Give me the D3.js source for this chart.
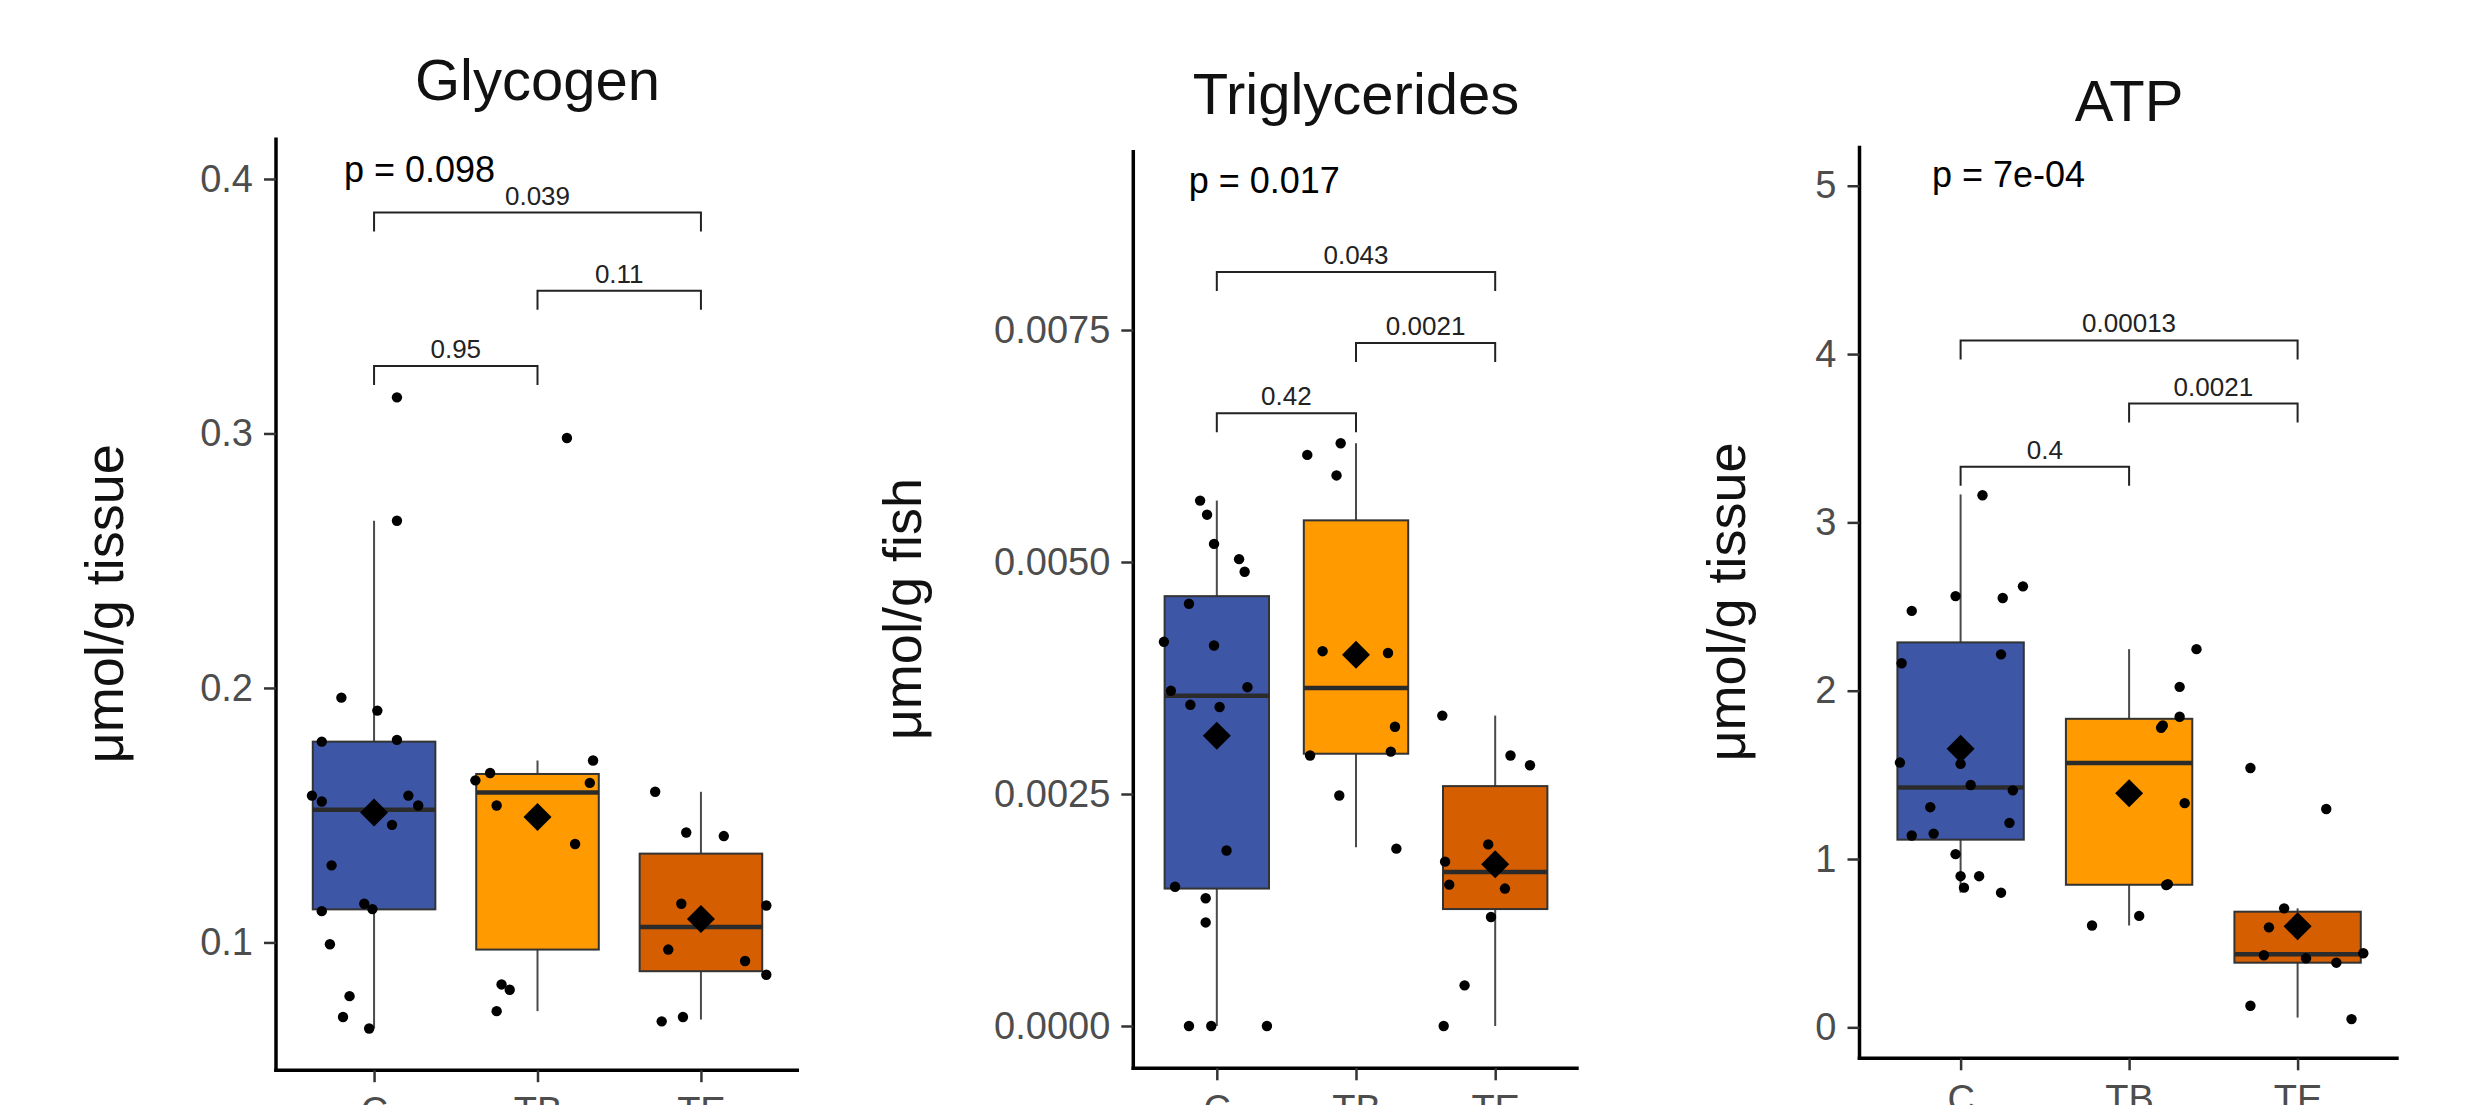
<!DOCTYPE html>
<html><head><meta charset="utf-8">
<script src="https://cdn.jsdelivr.net/npm/d3@7"></script>
<style>
body{margin:0;background:#fff;}
svg{display:block;}
text{font-family:"Liberation Sans",Arial,sans-serif;}
</style>
</head><body>
<svg id="chart" width="2478" height="1105"></svg>
<script>
// ---------------- DATA ----------------
const categories = ["C", "TB", "TE"];

// Glycogen (µmol/g tissue)
const glycogenC  = [0.3142,0.2657,0.1962,0.1911,0.1789,0.1796,0.1577,0.1554,0.1577,0.1538,0.1462,0.1303,0.1152,0.1131,0.1123,0.0993,0.0789,0.0707,0.0662];
const glycogenCJitter  = [0.14,0.14,-0.20,0.02,-0.32,0.14,-0.38,-0.32,0.21,0.27,0.11,-0.26,-0.06,-0.01,-0.32,-0.27,-0.15,-0.19,-0.03];
const glycogenTB = [0.2982,0.1715,0.1666,0.1637,0.1627,0.1538,0.1387,0.0835,0.0814,0.0730];
const glycogenTBJitter = [0.18,0.34,-0.29,-0.38,0.32,-0.25,0.23,-0.22,-0.17,-0.25];
const glycogenTE = [0.1592,0.1432,0.1418,0.1152,0.1145,0.0972,0.0927,0.0873,0.0707,0.0690];
const glycogenTEJitter = [-0.28,-0.09,0.14,-0.12,0.40,-0.20,0.27,0.40,-0.11,-0.24];
// box stats per group: [whiskerLow, q1, median, q3, whiskerHigh]
const glycogenBoxes = [[0.0662,0.1130,0.1521,0.1789,0.2657],[0.0730,0.0972,0.1589,0.1662,0.1715],[0.0697,0.0887,0.1061,0.1349,0.1592]];
const glycogenMeans = [0.1511,0.1493,0.1092];
const glycogenTicks = [0.1,0.2,0.3,0.4];
const glycogenTickLabels = ["0.1","0.2","0.3","0.4"];
const glycogenBrackets = [["C","TE"],["TB","TE"],["C","TB"]];
const glycogenBracketY = [0.3868,0.3561,0.3265];
const glycogenBracketLabels = ["0.039","0.11","0.95"];
const glycogenP = "p = 0.098";

// Triglycerides (µmol/g fish)
const trigC  = [0.005662,0.00551,0.005195,0.005031,0.004895,0.00455,0.00414,0.0041,0.003612,0.003651,0.003461,0.003438,0.001891,0.0015,0.001376,0.001116,0,0,0];
const trigCJitter  = [-0.12,-0.07,-0.02,0.16,0.20,-0.20,-0.38,-0.02,-0.33,0.22,-0.19,0.02,0.07,-0.30,-0.08,-0.08,-0.20,-0.04,0.36];
const trigTB = [0.00628,0.006154,0.005933,0.004039,0.004019,0.003225,0.002957,0.002915,0.002484,0.001911];
const trigTBJitter = [-0.11,-0.35,-0.14,-0.24,0.23,0.28,0.25,-0.33,-0.12,0.29];
const trigTE = [0.003345,0.002915,0.00281,0.001957,0.001771,0.001523,0.001481,0.001174,0.000438,0];
const trigTEJitter = [-0.38,0.11,0.25,-0.05,-0.36,-0.33,0.07,-0.03,-0.22,-0.37];
const trigBoxes = [[0,0.001481,0.003558,0.004632,0.005662],[0.001926,0.002934,0.003643,0.005449,0.00628],[0,0.00126,0.001659,0.002585,0.003345]];
const trigMeans = [0.003128,0.0040,0.001744];
const trigTicks = [0,0.0025,0.005,0.0075];
const trigTickLabels = ["0.0000","0.0025","0.0050","0.0075"];
const trigBrackets = [["C","TE"],["TB","TE"],["C","TB"]];
const trigBracketY = [0.008124,0.007361,0.006603];
const trigBracketLabels = ["0.043","0.0021","0.42"];
const trigP = "p = 0.017";

// ATP (µmol/g tissue)
const atpC  = [3.161,2.62,2.562,2.551,2.474,2.216,2.163,1.573,1.565,1.44,1.408,1.308,1.215,1.151,1.14,1.029,0.898,0.898,0.83,0.80];
const atpCJitter  = [0.13,0.37,-0.03,0.25,-0.29,0.24,-0.35,-0.36,0.00,0.06,0.31,-0.18,0.29,-0.16,-0.29,-0.03,0.00,0.11,0.02,0.24];
const atpTB = [2.247,2.023,1.845,1.793,1.78,1.332,0.851,0.845,0.662,0.605];
const atpTBJitter = [0.40,0.30,0.30,0.20,0.19,0.33,0.23,0.22,0.06,-0.22];
const atpTE = [1.541,1.297,0.707,0.594,0.428,0.41,0.44,0.384,0.128,0.049];
const atpTEJitter = [-0.28,0.17,-0.08,-0.17,-0.20,0.05,0.39,0.23,-0.28,0.32];
const atpBoxes = [[0.80,1.115,1.4255,2.287,3.166],[0.605,0.847,1.571,1.833,2.247],[0.058,0.384,0.434,0.687,0.707]];
const atpMeans = [1.655,1.391,0.600];
const atpTicks = [0,1,2,3,4,5];
const atpTickLabels = ["0","1","2","3","4","5"];
const atpBrackets = [["C","TE"],["TB","TE"],["C","TB"]];
const atpBracketY = [4.081,3.706,3.33];
const atpBracketLabels = ["0.00013","0.0021","0.4"];
const atpP = "p = 7e-04";

// ---------------- STYLE / LAYOUT ----------------
const fills = {C:"#3D56A6", TB:"#FF9A00", TE:"#D55E00"};

const panels = [
  {title:"Glycogen", ylab:"\u03bcmol/g tissue",
   groups:[[glycogenC,glycogenCJitter],[glycogenTB,glycogenTBJitter],[glycogenTE,glycogenTEJitter]],
   boxes:glycogenBoxes, means:glycogenMeans, ticks:glycogenTicks, tickLabels:glycogenTickLabels,
   brackets:glycogenBrackets, bracketY:glycogenBracketY, bracketLabels:glycogenBracketLabels, p:glycogenP,
   L:{left:276,right:799,top:137.5,bottom:1070.2,yDom:[0.0498,0.4163],titleY:100,ylabX:123,pX:0.816,pY:0.399}},
  {title:"Triglycerides", ylab:"\u03bcmol/g fish",
   groups:[[trigC,trigCJitter],[trigTB,trigTBJitter],[trigTE,trigTEJitter]],
   boxes:trigBoxes, means:trigMeans, ticks:trigTicks, tickLabels:trigTickLabels,
   brackets:trigBrackets, bracketY:trigBracketY, bracketLabels:trigBracketLabels, p:trigP,
   L:{left:1133.3,right:1578.7,top:150,bottom:1068.3,yDom:[-0.000456,0.00944],titleY:113.6,ylabX:921,pX:0.798,pY:0.008977}},
  {title:"ATP", ylab:"\u03bcmol/g tissue",
   groups:[[atpC,atpCJitter],[atpTB,atpTBJitter],[atpTE,atpTEJitter]],
   boxes:atpBoxes, means:atpMeans, ticks:atpTicks, tickLabels:atpTickLabels,
   brackets:atpBrackets, bracketY:atpBracketY, bracketLabels:atpBracketLabels, p:atpP,
   L:{left:1859.5,right:2398.7,top:145.7,bottom:1058.3,yDom:[-0.184,5.238],titleY:121.4,ylabX:1745,pX:0.83,pY:4.99}}
];

const svg = d3.select("#chart");
svg.append("rect").attr("width",2478).attr("height",1105).attr("fill","#fff");

const boxW = 0.75, tipPx = 19;

panels.forEach(P => {
  const L = P.L;
  const x = d3.scaleLinear().domain([0.4, 3.6]).range([L.left, L.right]);
  const y = d3.scaleLinear().domain(L.yDom).range([L.bottom, L.top]);
  const g = svg.append("g");
  const catX = c => x(categories.indexOf(c) + 1);

  // boxes
  P.boxes.forEach((b, i) => {
    const cx = x(i + 1);
    const c = categories[i];
    g.append("line").attr("x1",cx).attr("x2",cx).attr("y1",y(b[3])).attr("y2",y(b[4]))
      .attr("stroke","#4a4a4a").attr("stroke-width",2);
    g.append("line").attr("x1",cx).attr("x2",cx).attr("y1",y(b[1])).attr("y2",y(b[0]))
      .attr("stroke","#4a4a4a").attr("stroke-width",2);
    g.append("rect").attr("x",x(i + 1 - boxW/2)).attr("width",x(i + 1 + boxW/2) - x(i + 1 - boxW/2))
      .attr("y",y(b[3])).attr("height",y(b[1]) - y(b[3]))
      .attr("fill",fills[c]).attr("stroke","#333").attr("stroke-width",2);
    g.append("line").attr("x1",x(i + 1 - boxW/2)).attr("x2",x(i + 1 + boxW/2))
      .attr("y1",y(b[2])).attr("y2",y(b[2])).attr("stroke","#2b2b2b").attr("stroke-width",4.5);
  });

  // jittered points
  P.groups.forEach((grp, i) => {
    const vals = grp[0], jit = grp[1];
    g.selectAll(null).data(vals).enter().append("circle")
      .attr("cx",(d,k) => x(i + 1 + jit[k])).attr("cy",d => y(d)).attr("r",5.2).attr("fill","#000");
  });

  // mean diamonds
  P.means.forEach((m, i) => {
    g.append("path").attr("d","M0,-14L14,0L0,14L-14,0Z")
      .attr("transform",`translate(${x(i+1)},${y(m)})`).attr("fill","#000");
  });

  // brackets
  P.brackets.forEach((pair, k) => {
    const x1 = catX(pair[0]), x2 = catX(pair[1]), yy = y(P.bracketY[k]);
    g.append("path").attr("d",`M${x1},${yy+tipPx}L${x1},${yy}L${x2},${yy}L${x2},${yy+tipPx}`)
      .attr("fill","none").attr("stroke","#222").attr("stroke-width",2);
    g.append("text").attr("x",(x1+x2)/2).attr("y",yy-8).attr("text-anchor","middle")
      .attr("font-size",26).attr("fill","#222").text(P.bracketLabels[k]);
  });

  // global p
  g.append("text").attr("x",x(L.pX)).attr("y",y(L.pY)).attr("font-size",36).attr("fill","#000").text(P.p);

  // axes
  const yAxis = d3.axisLeft(y).tickValues(P.ticks).tickFormat((d,i) => P.tickLabels[i])
    .tickSizeInner(12).tickSizeOuter(0).tickPadding(11);
  const ya = g.append("g").attr("transform",`translate(${L.left},0)`).call(yAxis);
  const xAxis = d3.axisBottom(x).tickValues([1,2,3]).tickFormat(d => categories[d-1])
    .tickSizeInner(12).tickSizeOuter(0).tickPadding(15);
  const xa = g.append("g").attr("transform",`translate(0,${L.bottom})`).call(xAxis);
  [ya, xa].forEach(a => {
    a.select(".domain").attr("stroke","#000").attr("stroke-width",3.5);
    a.selectAll(".tick line").attr("stroke","#333").attr("stroke-width",2.5);
    a.selectAll(".tick text").attr("font-size",38).attr("fill","#4D4D4D")
      .attr("font-family","'Liberation Sans',Arial,sans-serif");
  });
  xa.select(".domain").attr("d",`M${L.left - 1.75},0H${L.right}`);
  ya.select(".domain").attr("d",`M0,${L.bottom + 1.75}V${L.top}`);

  // title
  g.append("text").attr("x",(L.left + L.right)/2).attr("y",L.titleY).attr("text-anchor","middle")
    .attr("font-size",58).attr("fill","#111").text(P.title);
  // y title
  g.append("text").attr("transform",`translate(${L.ylabX},${(L.top + L.bottom)/2}) rotate(-90)`)
    .attr("text-anchor","middle").attr("font-size",54).attr("fill","#111").text(P.ylab);
});
</script>
</body></html>
